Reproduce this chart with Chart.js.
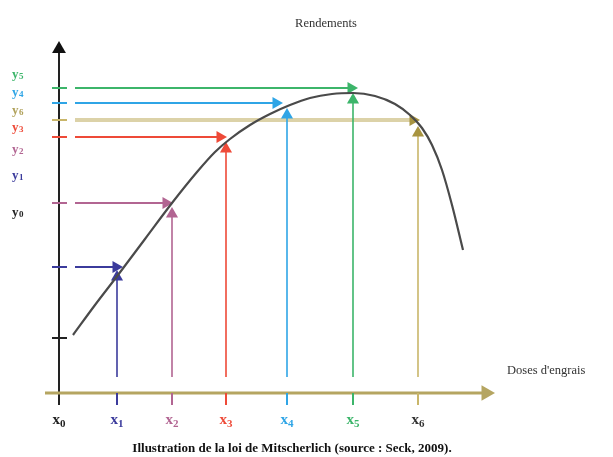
<!DOCTYPE html>
<html>
<head>
<meta charset="utf-8">
<script src="https://cdn.jsdelivr.net/npm/chart.js@4.4.0/dist/chart.umd.min.js"></script>
<style>
  body { margin: 0; background: #fff; }
  canvas { display: block; }
</style>
</head>
<body>
<canvas id="mitscherlich" width="613" height="457"></canvas>
<script>
// doses x0..x6 et rendements y0..y6
const doses = [0, 5.8, 11.3, 16.7, 22.8, 29.4, 35.9];
const rendements = [5.5, 12.6, 19.0, 25.6, 29.0, 30.5, 27.3];
// courbe de réponse
const curveX = [1.4, 3.6, 5.9, 8.6, 11.3, 13.8, 15.6, 17.1, 19.1, 21.1, 23.1, 25.1, 27.3, 29.4, 31.6, 33.6, 35.1, 36.3, 37.3, 38.3, 39.3, 40.4];
const curveY = [5.8, 8.8, 11.8, 15.4, 19.0, 22.1, 24.1, 25.4, 26.8, 27.9, 28.8, 29.5, 29.9, 30.0, 29.7, 28.9, 27.8, 26.5, 24.8, 22.3, 18.8, 14.3];
// bout des flèches horizontales et verticales (x1..x6)
const hArrowEnd = [5.7, 10.7, 16.1, 21.7, 29.2, 35.4];
const vArrowEnd = [11.6, 17.9, 24.4, 27.8, 29.3, 26.0];
const xLabels = ["0", "1", "2", "3", "4", "5", "6"];
const yLabels = ["5", "4", "6", "3", "2", "1", "0"];

const colors = ["#222222", "#3b3b9c", "#b26592", "#ee4a38", "#2fa5e6", "#3cb56a", "#c9b66a"];
const yLabelColors = ["#3cb56a", "#2fa5e6", "#b0a15a", "#ee4a38", "#b26592", "#3b3b9c", "#222222"];
const axisColor = "#b5a561";

function line(points, color, width, head, rotation, radius) {
  return {
    data: points,
    showLine: true,
    borderColor: color,
    borderWidth: width,
    pointRadius: points.map((p, i) => (head && i === points.length - 1 ? radius || 7 : 0)),
    pointStyle: "triangle",
    rotation: rotation || 0,
    pointBackgroundColor: head || color,
    pointBorderWidth: 0,
    tension: 0
  };
}

const datasets = [];
// courbe
datasets.push({
  data: curveX.map((x, i) => ({ x: x, y: curveY[i] })),
  showLine: true,
  borderColor: "#4a4a4a",
  borderWidth: 2.2,
  pointRadius: 0,
  cubicInterpolationMode: "monotone"
});
// flèches
for (let i = 1; i < doses.length; i++) {
  const c = colors[i];
  const hColor = i === 6 ? "#dcd2a8" : c;
  const headColor = i === 6 ? "#a89440" : c;
  datasets.push(line([{ x: 1.6, y: rendements[i] }, { x: hArrowEnd[i - 1], y: rendements[i] }], hColor, i === 6 ? 4 : 2, headColor, 90));
  datasets.push(line([{ x: doses[i], y: 1.6 }, { x: doses[i], y: vArrowEnd[i - 1] }], c, 1.6, headColor, 0));
  datasets.push(line([{ x: doses[i], y: 0 }, { x: doses[i], y: -1.2 }], c, 2));
}
// petits traits sur l'axe des rendements
for (let i = 0; i < rendements.length; i++) {
  datasets.push(line([{ x: -0.7, y: rendements[i] }, { x: 0.8, y: rendements[i] }], colors[i], 2));
}
// axes
datasets.push(line([{ x: -1.4, y: 0 }, { x: 42.7, y: 0 }], axisColor, 3, axisColor, 90, 9));
datasets.push(line([{ x: 0, y: -1.2 }, { x: 0, y: 34.4 }], "#222222", 2, "#111111", 0, 8));

const textPlugin = {
  id: "texts",
  afterDraw(chart) {
    const ctx = chart.ctx;
    const xs = chart.scales.x;
    ctx.save();
    ctx.textBaseline = "alphabetic";
    // x0..x6
    for (let i = 0; i < xLabels.length; i++) {
      const px = xs.getPixelForValue(doses[i]);
      ctx.fillStyle = i === 6 ? "#333333" : colors[i];
      ctx.font = "bold 15px 'Liberation Serif'";
      ctx.textAlign = "right";
      ctx.fillText("x", px + 1, 424);
      ctx.font = "bold 11px 'Liberation Serif'";
      ctx.textAlign = "left";
      ctx.fillText(xLabels[i], px + 1, 427);
    }
    // y labels à gauche
    const yPos = [78, 96, 114, 131, 153, 179, 216];
    for (let i = 0; i < yLabels.length; i++) {
      ctx.fillStyle = yLabelColors[i];
      ctx.font = "bold 13px 'Liberation Serif'";
      ctx.textAlign = "left";
      ctx.fillText("y", 12, yPos[i]);
      ctx.font = "bold 9px 'Liberation Serif'";
      ctx.fillText(yLabels[i], 19, yPos[i] + 1);
    }
    ctx.fillStyle = "#333333";
    ctx.font = "12.5px 'Liberation Serif'";
    ctx.textAlign = "center";
    ctx.fillText("Rendements", 326, 27);
    ctx.textAlign = "left";
    ctx.fillText("Doses d'engrais", 507, 374);
    ctx.fillStyle = "#111111";
    ctx.font = "bold 13px 'Liberation Serif'";
    ctx.textAlign = "center";
    ctx.fillText("Illustration de la loi de Mitscherlich (source : Seck, 2009).", 292, 452);
    ctx.restore();
  }
};

new Chart(document.getElementById("mitscherlich").getContext("2d"), {
  type: "scatter",
  data: { datasets: datasets },
  options: {
    responsive: false,
    animation: false,
    layout: { padding: 0, autoPadding: false },
    scales: {
      x: { type: "linear", display: false, min: -5.9, max: 55.4 },
      y: { type: "linear", display: false, min: -6.4, max: 39.3 }
    },
    plugins: { legend: { display: false }, tooltip: { enabled: false } }
  },
  plugins: [textPlugin]
});
</script>
</body>
</html>
